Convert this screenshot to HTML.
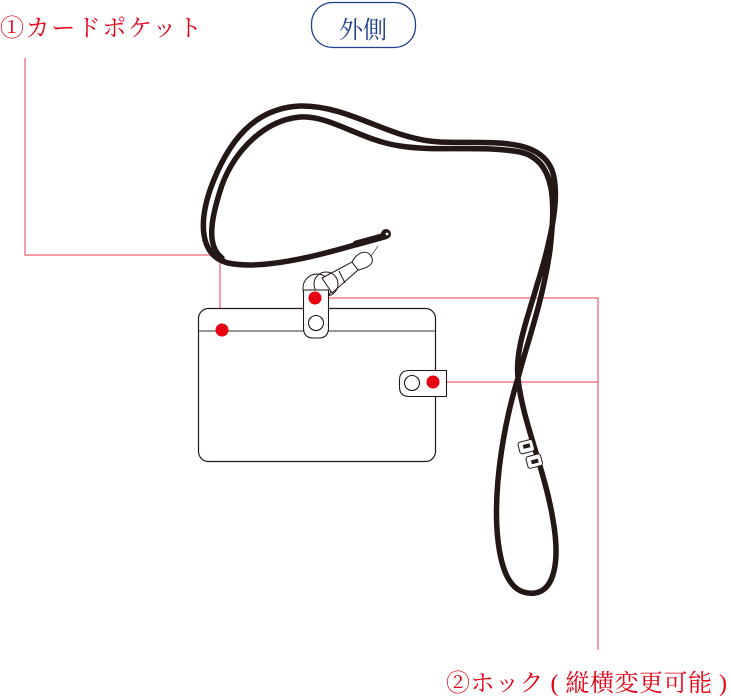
<!DOCTYPE html>
<html><head><meta charset="utf-8"><style>
html,body{margin:0;padding:0;background:#fff;width:731px;height:696px;overflow:hidden;position:relative}
.t{position:absolute;font-family:"Liberation Serif","Noto Serif CJK SC",serif;color:#e60012;white-space:nowrap}
</style></head><body>
<svg width="731" height="696" style="position:absolute;left:0;top:0">
<g stroke="#e8384f" stroke-width="1" fill="none">
<polyline points="25,58 25,255 220,255 220,330"/>
<polyline points="315,298 598,298 598,650"/>
<line x1="433" y1="382" x2="598" y2="382"/>
</g>
<rect x="311.5" y="2.5" width="104" height="45" rx="21" fill="#fff" stroke="#1d3f8f" stroke-width="1.3"/>
<g fill="none" stroke="#231815" stroke-linecap="round" stroke-linejoin="round">
<path d="M385,236 C345,248 270,272 228,263 C198,255 200,220 210,190 C228,140 255,108 300,106 C350,105 390,140 440,142 C490,144 538,136 552,170 C562,198 548,250 537,285 C527,320 515,350 518,378 C522,420 545,470 553,520 C560,560 555,590 535,593 C510,596 500,570 497,530 C494,480 505,420 518,378 C528,340 543,300 550,250 C555,205 557,160 520,152 C480,145 440,152 400,146 C360,140 330,115 300,117 C265,120 235,150 222,185 C212,215 205,245 222,258" stroke-width="5.5"/>
<path d="M385,236 L356,244" stroke-width="7"/>
<circle cx="386" cy="234" r="5" fill="#231815" stroke="none"/>
<circle cx="387" cy="234" r="1.4" fill="#fff" stroke="none"/>
</g>
<g fill="none" stroke="#231815" stroke-width="1">
<circle cx="317" cy="288" r="14" fill="#fff"/>
<path d="M322,278 L352,262 L358,270 L332,293 Z" fill="#fff"/>
<line x1="339" y1="271" x2="345" y2="283"/>
<path d="M352,262 C357,252 368,248 372,258 C374,264 368,268 358,270 Z" fill="#fff"/>
<circle cx="326" cy="284" r="12"/>
<line x1="371" y1="256" x2="378" y2="246" stroke-width="0.6"/>
</g>
<rect x="198.5" y="308.5" width="237" height="153" rx="10" fill="#fff" stroke="#231815" stroke-width="1.2"/>
<line x1="199" y1="331" x2="435" y2="331" stroke="#777" stroke-width="1.5"/>
<path d="M303.5,290 L328.5,290 L328.5,328 Q328.5,338 318.5,338 L313.5,338 Q303.5,338 303.5,328 Z" fill="#fff" stroke="#231815" stroke-width="1.1"/>
<circle cx="316" cy="323" r="7.5" fill="#fff" stroke="#231815" stroke-width="1.1"/>
<path d="M446.5,370.5 L409.5,370.5 Q399.5,370.5 399.5,380 L399.5,387 Q399.5,396.5 409.5,396.5 L446.5,396.5 Z" fill="#fff" stroke="#231815" stroke-width="1.1"/>
<circle cx="412" cy="383" r="7.5" fill="#fff" stroke="#231815" stroke-width="1.1"/>
<g transform="rotate(-15 530 455)" fill="#fff" stroke="#231815" stroke-width="1">
<rect x="521" y="440" width="15" height="12" rx="2.5"/>
<rect x="525" y="456" width="15" height="12" rx="2.5"/>
<rect x="526" y="444" width="6" height="3" fill="#231815"/>
<rect x="530" y="461" width="6" height="3" fill="#231815"/>
</g>
<g fill="#e60012">
<circle cx="222" cy="330" r="6.5"/>
<circle cx="315" cy="298" r="6.5"/>
<circle cx="433" cy="382" r="6.5"/>
</g>
</svg>
<div class="t" style="left:0;top:8px;font-size:24px;letter-spacing:1.6px">①カードポケット</div>
<div class="t" style="left:311px;width:104px;text-align:center;top:10px;font-size:24px;color:#1d3f8f;font-family:'Liberation Serif','Noto Serif CJK SC',serif">外側</div>
<div class="t" style="left:446px;top:663px;font-size:24px;letter-spacing:0.5px">②ホック ( 縦横変更可能 )</div>
</body></html>
